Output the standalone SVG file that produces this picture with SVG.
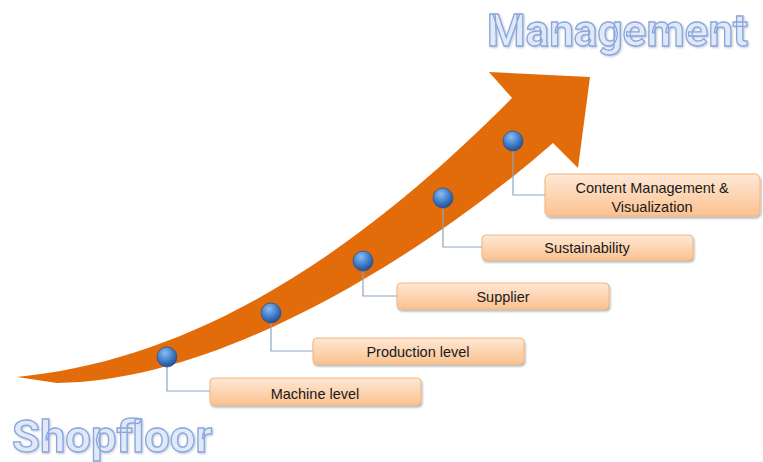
<svg xmlns="http://www.w3.org/2000/svg" width="763" height="462" viewBox="0 0 763 462">
<defs>
<linearGradient id="boxg" x1="0" y1="0" x2="0" y2="1">
<stop offset="0" stop-color="#fee8d6"/>
<stop offset="1" stop-color="#fbc290"/>
</linearGradient>
<radialGradient id="dotg" cx="0.4" cy="0.3" r="0.7">
<stop offset="0" stop-color="#8dbdf0"/>
<stop offset="0.6" stop-color="#3f7bc8"/>
<stop offset="1" stop-color="#24508f"/>
</radialGradient>
<filter id="sh" x="-10%" y="-20%" width="120%" height="150%">
<feDropShadow dx="1" dy="2" stdDeviation="1.2" flood-color="#000" flood-opacity="0.3"/>
</filter>
<filter id="tsh" x="-5%" y="-10%" width="110%" height="130%">
<feDropShadow dx="1" dy="1" stdDeviation="1" flood-color="#6a7fa8" flood-opacity="0.45"/>
</filter>
</defs>
<style>
.box{fill:url(#boxg);stroke:#f5b47a;stroke-width:1;filter:url(#sh)}
.lbl{font-family:"Liberation Sans",Arial,sans-serif;font-size:14.5px;fill:#1a1a1a;text-anchor:middle}
.dot{fill:url(#dotg);stroke:#2b568c;stroke-width:0.8}
.con{fill:none;stroke:#8ea6bd;stroke-width:1.2}
.big{font-family:Roboto,"DejaVu Sans",sans-serif;font-weight:bold;font-size:45px;fill:#dfe9f8;stroke:#8aa6dc;stroke-width:1.3;filter:url(#tsh)}
</style>
<rect width="763" height="462" fill="#fff"/>
<path id="arrow" d="M17,377 C170,362 330,282 512,98 L489,72 L590,77 L578,168 L553,143 C425,255 220,382 57,383 Z" fill="#e36c0a"/>
<g id="connectors">
<path class="con" d="M167,357 V391 H210"/>
<path class="con" d="M271,313 V351 H313"/>
<path class="con" d="M363,261 V296 H397"/>
<path class="con" d="M443,198 V247 H482"/>
<path class="con" d="M513,141 V195 H545"/>
</g>
<g id="n1"><circle class="dot" cx="167" cy="357" r="10"/><rect class="box" x="210" y="378" width="211" height="27" rx="4"/><text class="lbl" x="315" y="399">Machine level</text></g>
<g id="n2"><circle class="dot" cx="271" cy="313" r="10"/><rect class="box" x="313" y="338" width="211" height="26" rx="4"/><text class="lbl" x="418" y="357">Production level</text></g>
<g id="n3"><circle class="dot" cx="363" cy="261" r="10"/><rect class="box" x="397" y="283" width="212" height="26" rx="4"/><text class="lbl" x="503" y="302">Supplier</text></g>
<g id="n4"><circle class="dot" cx="443" cy="198" r="10"/><rect class="box" x="482" y="235" width="211" height="25" rx="4"/><text class="lbl" x="587" y="253">Sustainability</text></g>
<g id="n5"><circle class="dot" cx="513" cy="141" r="10"/><rect class="box" x="545" y="174" width="215" height="42" rx="5"/><text class="lbl" x="652" y="193">Content Management &amp;</text><text class="lbl" x="652" y="212">Visualization</text></g>
<text id="management" class="big" x="487" y="46" textLength="261" lengthAdjust="spacingAndGlyphs">Management</text>
<text id="shopfloor" class="big" x="12" y="452" textLength="200" lengthAdjust="spacingAndGlyphs">Shopfloor</text>
</svg>
